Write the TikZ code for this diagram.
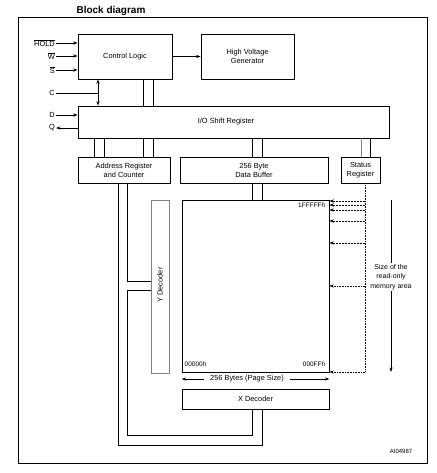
\documentclass[tikz,border=0pt]{standalone}
\usepackage{fontspec}
\setmainfont{Liberation Sans}
\usetikzlibrary{arrows.meta,calc}
\begin{document}
\begin{tikzpicture}[x=1pt,y=-1pt,
  tip/.tip={Stealth[length=4.5pt,width=3.2pt]},
  box/.style={draw,line width=0.75pt,inner sep=0pt,font=\fontsize{7.4}{9}\selectfont,align=center},
  ln/.style={line width=0.75pt},
  arr/.style={ln,-tip},
  darr/.style={ln,tip-tip},
  lbl/.style={font=\fontsize{7.4}{9}\selectfont,inner sep=1pt},
  small/.style={font=\fontsize{6.5}{8}\selectfont,inner sep=0.5pt},
  dsh/.style={line width=0.7pt,dash pattern=on 2pt off 1pt,-tip},
  dtt/.style={line width=0.7pt,dash pattern=on 0.8pt off 0.8pt,-tip}]
\useasboundingbox (0,0) rectangle (436,473);
\node[font=\bfseries\fontsize{10}{12}\selectfont] (title) at (111,11) {Block diagram};
\node[draw,line width=0.75pt,minimum width=409pt,minimum height=446pt,inner sep=0pt] (frame) at (222.5,240) {};
% boxes
\node[box,minimum width=94pt,minimum height=45pt] (CL) at (125,56.5) {Control Logic};
\node[box,minimum width=93pt,minimum height=45pt] (HV) at (247.5,56.5) {High Voltage\\Generator};
\node[box,minimum width=311pt,minimum height=32pt] (IO) at (233.5,122) {};
\node[lbl] (IOt) at (226,122) {I/O Shift Register};
\node[box,minimum width=92pt,minimum height=26pt] (AD) at (124,170) {Address Register\\and Counter};
\node[box,minimum width=148pt,minimum height=26pt] (DB) at (254,170) {256 Byte\\Data Buffer};
\node[box,minimum width=39pt,minimum height=26pt] (SR) at (360.5,170) {Status\\Register};
\node[box,draw=gray,minimum width=18pt,minimum height=173pt] (YD) at (160,286.5) {};
\node[lbl,rotate=90] (YDt) at (160,285) {Y Decoder};
\node[box,minimum width=147pt,minimum height=172pt] (MEM) at (255.5,286) {};
\node[box,minimum width=147pt,minimum height=20pt] (XD) at (255.5,399) {X Decoder};
% memory labels
\node[small,anchor=east] (top) at (326,205) {1FFFFFh};
\node[small,anchor=west] (a0) at (184,364) {00000h};
\node[small,anchor=east] (aF) at (326,364) {000FFh};
% inputs
\node[lbl,anchor=east] (hold) at (56,43) {$\overline{\hbox{HOLD}}$};
\node[lbl,anchor=east] (w) at (56,56) {$\overline{\hbox{W}}$};
\node[lbl,anchor=east] (s) at (56,70) {$\overline{\hbox{S}}$};
\node[lbl,anchor=east] (c) at (56,93) {C};
\node[lbl,anchor=east] (d) at (56,115) {D};
\node[lbl,anchor=east] (q) at (56,128) {Q};
\draw[arr] (hold.east) -- (hold.east -| CL.west);
\draw[arr] (w.east) -- (w.east -| CL.west);
\draw[arr] (s.east) -- (s.east -| CL.west);
\draw[arr] (d.east) -- (d.east -| IO.west);
\draw[arr] (q.east -| IO.west) -- (q.east);
\coordinate (cj) at (98,93);
\draw[ln] (c.east) -- (cj);
\draw[darr] (cj |- CL.south) -- (cj |- IO.north);
\draw[arr] (CL.east) -- (HV.west);
% double buses
\foreach \x in {143,153} \draw[ln] (\x,0 |- CL.south) -- (\x,0 |- IO.north);
\foreach \x in {94,104,143,153} \draw[ln] (\x,0 |- IO.south) -- (\x,0 |- AD.north);
\foreach \x in {252,262} \draw[ln] (\x,0 |- IO.south) -- (\x,0 |- DB.north);
\draw[ln,gray] (361,0 |- IO.south) -- (361,0 |- SR.north);
\draw[ln] (370,0 |- IO.south) -- (370,0 |- SR.north);
\foreach \x in {252,262} \draw[ln] (\x,0 |- DB.south) -- (\x,0 |- MEM.north);
% address loops
\draw[ln] (118,0 |- AD.south) -- (118,445) -- (262,445) -- (262,0 |- XD.south);
\draw[ln] (127,0 |- AD.south) -- (127,281) -- (YD.west |- 0,281);
\draw[ln] (YD.west |- 0,290) -- (127,290) -- (127,435) -- (252,435) -- (252,0 |- XD.south);
% page size
\coordinate (pl) at (MEM.west |- 0,379);
\coordinate (pr) at (MEM.east |- 0,379);
\draw[darr] (pl) -- (pr);
\node[lbl,fill=white,inner xsep=6pt] (ps) at (247,379) {256 Bytes (Page Size)};
% status dotted
\coordinate (sv) at (365,372);
\draw[line width=0.7pt,dash pattern=on 0.8pt off 0.8pt] (sv |- SR.south) -- (sv);
\foreach \y in {201,205,210,221,243} \draw[dsh] (365,\y) -- (MEM.east |- 0,\y);
\foreach \y in {286,372} \draw[dtt] (365,\y) -- (MEM.east |- 0,\y);
% size arrow
\node[lbl,align=center,font=\fontsize{7}{9.5}\selectfont] (sz) at (391,277) {Size of the\\read-only\\memory area};
\coordinate (st) at (391,200);
\coordinate (sb) at (391,372);
\draw[ln] (st) -- (sz.north);
\draw[arr] (sz.south) -- (sb);
\node[small,font=\fontsize{6}{7}\selectfont] (ai) at (401,451) {AI04987};
\end{tikzpicture}
\end{document}
